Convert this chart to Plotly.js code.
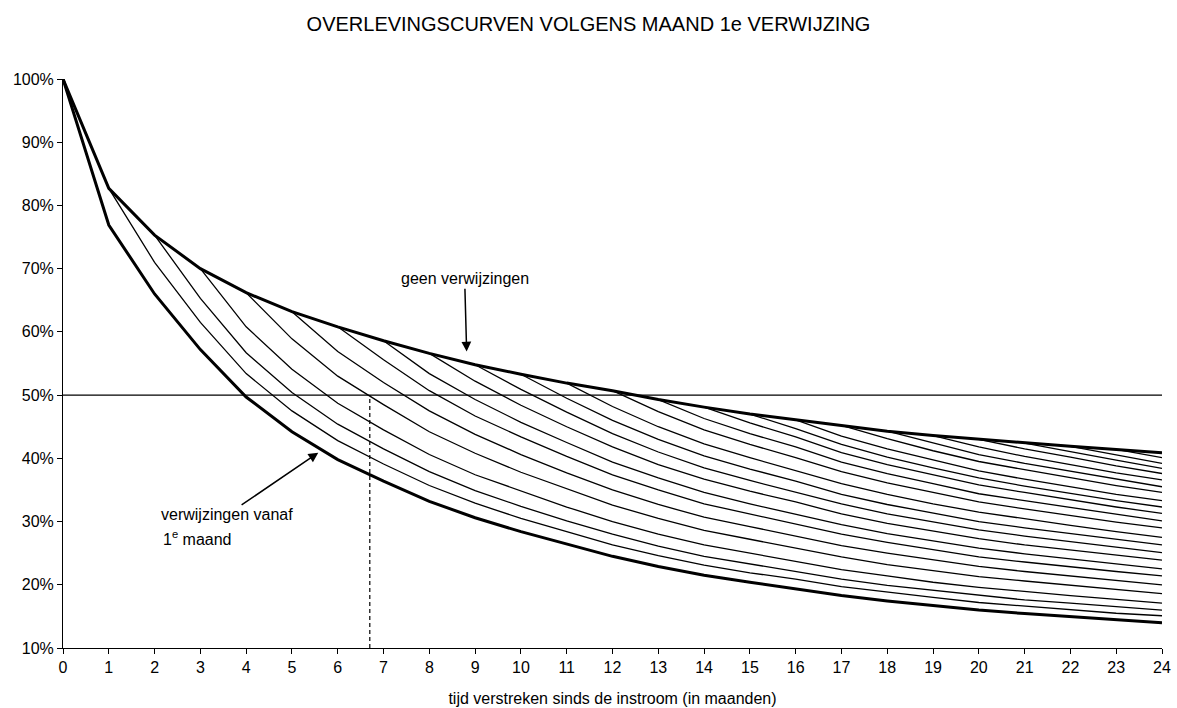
<!DOCTYPE html>
<html>
<head>
<meta charset="utf-8">
<script src="https://cdn.plot.ly/plotly-3.0.1.min.js"></script>
<style>
  html, body { margin: 0; padding: 0; background: #ffffff; }
  #chart { width: 1177px; height: 708px; }
</style>
</head>
<body>
<div id="chart"></div>
<script>
// ---- data ----
const months = [0,1,2,3,4,5,6,7,8,9,10,11,12,13,14,15,16,17,18,19,20,21,22,23,24];

// upper bold curve: geen verwijzingen (%)
const geenVerwijzingen = [100,82.7,75.3,70.0,66.2,63.2,60.8,58.6,56.6,54.8,53.3,51.9,50.7,49.3,48.1,47.0,46.1,45.2,44.3,43.6,43.0,42.4,41.9,41.4,40.9];

// lower bold curve: verwijzingen vanaf 1e maand (%)
const verwijzingenVanaf1 = [100,76.9,66.0,57.2,49.7,44.2,39.8,36.4,33.2,30.6,28.4,26.4,24.5,22.9,21.5,20.4,19.4,18.3,17.45,16.7,16.0,15.45,14.95,14.45,14.0];

// thin curves: first referral in month k (values from month k up to 24)
const divergeMonths = [1,2,3,4,5,6,7,8,9,10,11,12,13,14,15,16,17,18,19,20,21,22,23];
const thinCurves = [
  [82.7,71.0,61.5,53.4,47.5,42.8,39.1,35.7,32.9,30.5,28.4,26.3,24.6,23.1,21.9,20.9,19.7,18.8,18.0,17.2,16.6,16.1,15.5,15.1],
  [75.3,65.3,56.7,50.4,45.4,41.5,37.9,34.9,32.4,30.1,28.0,26.1,24.5,23.3,22.1,20.9,19.9,19.1,18.3,17.6,17.1,16.5,16.0],
  [70.0,60.8,54.1,48.7,44.5,40.6,37.4,34.8,32.3,30.0,28.0,26.3,25.0,23.7,22.4,21.4,20.4,19.6,18.9,18.3,17.7,17.1],
  [66.2,58.9,53.0,48.5,44.2,40.8,37.8,35.2,32.6,30.5,28.6,27.2,25.8,24.4,23.2,22.2,21.3,20.6,19.9,19.2,18.6],
  [63.2,56.9,52.0,47.5,43.8,40.6,37.7,35.0,32.7,30.7,29.2,27.7,26.2,25.0,23.9,22.9,22.1,21.4,20.7,20.0],
  [60.8,55.6,50.7,46.7,43.4,40.3,37.4,35.0,32.8,31.2,29.6,28.0,26.7,25.5,24.4,23.6,22.8,22.1,21.4],
  [58.6,53.4,49.3,45.7,42.5,39.4,36.9,34.6,32.8,31.2,29.5,28.1,26.9,25.8,24.9,24.1,23.3,22.5],
  [56.6,52.2,48.4,45.0,41.8,39.0,36.7,34.8,33.1,31.2,29.7,28.5,27.3,26.3,25.5,24.6,23.9],
  [54.8,50.9,47.3,43.9,41.0,38.5,36.5,34.7,32.8,31.2,29.9,28.7,27.7,26.8,25.9,25.1],
  [53.3,49.5,46.0,43.0,40.4,38.3,36.4,34.3,32.7,31.3,30.0,29.0,28.1,27.1,26.3],
  [51.9,48.2,45.0,42.3,40.1,38.1,36.0,34.3,32.8,31.5,30.4,29.4,28.4,27.5],
  [50.7,47.4,44.5,42.2,40.1,37.9,36.1,34.6,33.1,32.0,30.9,29.9,29.0],
  [49.3,46.3,43.9,41.8,39.4,37.6,36.0,34.4,33.3,32.2,31.1,30.1],
  [48.1,45.6,43.4,40.9,39.0,37.4,35.8,34.6,33.4,32.3,31.3],
  [47.0,44.7,42.2,40.2,38.5,36.9,35.6,34.4,33.3,32.3],
  [46.1,43.5,41.5,39.7,38.0,36.7,35.5,34.3,33.3],
  [45.2,43.1,41.2,39.5,38.2,36.9,35.7,34.6],
  [44.3,42.4,40.6,39.2,38.0,36.7,35.5],
  [43.6,41.8,40.3,39.0,37.7,36.6],
  [43.0,41.5,40.2,38.8,37.6],
  [42.4,41.0,39.7,38.4],
  [41.9,40.5,39.2],
  [41.4,40.1]
];

const yTickValues = [10,20,30,40,50,60,70,80,90,100];
const yTickLabels = ['10%','20%','30%','40%','50%','60%','70%','80%','90%','100%'];
const referenceLevel = 50;     // horizontal 50% line
const medianMonth = 6.7;       // dashed vertical line

// ---- traces ----
const FONT = 'Liberation Sans, Arial, Helvetica, sans-serif';
const traces = [];

thinCurves.forEach((vals, i) => {
  traces.push({
    type: 'scatter', mode: 'lines',
    x: months.slice(divergeMonths[i]), y: vals,
    line: { color: '#000000', width: 1.3 },
    hoverinfo: 'skip'
  });
});

traces.push({
  type: 'scatter', mode: 'lines',
  x: [months[0], months[months.length - 1]], y: [referenceLevel, referenceLevel],
  line: { color: '#000000', width: 1.3 }, hoverinfo: 'skip'
});

traces.push({
  type: 'scatter', mode: 'lines',
  x: [medianMonth, medianMonth], y: [yTickValues[0], referenceLevel],
  line: { color: '#000000', width: 1.2, dash: '4px,3px' }, hoverinfo: 'skip'
});

traces.push({
  type: 'scatter', mode: 'lines', x: months, y: verwijzingenVanaf1,
  line: { color: '#000000', width: 3 }, name: 'verwijzingen vanaf 1e maand'
});
traces.push({
  type: 'scatter', mode: 'lines', x: months, y: geenVerwijzingen,
  line: { color: '#000000', width: 3 }, name: 'geen verwijzingen'
});

const layout = {
  width: 1177, height: 708,
  margin: { l: 63, r: 15, t: 79, b: 60 },
  paper_bgcolor: '#ffffff', plot_bgcolor: '#ffffff',
  showlegend: false,
  font: { family: FONT, size: 16, color: '#000000' },
  title: {
    text: 'OVERLEVINGSCURVEN VOLGENS MAAND 1e VERWIJZING',
    font: { family: FONT, size: 20, color: '#000000' },
    xref: 'container', x: 0.5, xanchor: 'center',
    yref: 'container', y: 0.966, yanchor: 'middle'
  },
  xaxis: {
    range: [0, 24],
    tickmode: 'array', tickvals: months, ticktext: months.map(String),
    ticks: 'outside', ticklen: 5, tickwidth: 1, tickcolor: '#000000',
    showline: true, linecolor: '#000000', linewidth: 1,
    showgrid: false, zeroline: false,
    tickfont: { family: FONT, size: 16, color: '#000000' },
    title: { text: 'tijd verstreken sinds de instroom (in maanden)', font: { family: FONT, size: 16, color: '#000000' }, standoff: 17 },
    automargin: false
  },
  yaxis: {
    range: [10, 100],
    tickmode: 'array', tickvals: yTickValues, ticktext: yTickLabels,
    ticks: 'outside', ticklen: 5, tickwidth: 1, tickcolor: '#000000',
    showline: true, linecolor: '#000000', linewidth: 1,
    showgrid: false, zeroline: false,
    tickfont: { family: FONT, size: 16, color: '#000000' },
    automargin: false
  },
  annotations: [
    {
      x: 8.815, y: 56.9, xref: 'x', yref: 'y',
      text: 'geen verwijzingen', showarrow: true, ax: -2, ay: -72.7,
      arrowhead: 2, arrowsize: 1.3, arrowwidth: 1.5, arrowcolor: '#000000',
      font: { family: FONT, size: 16, color: '#000000' }
    },
    {
      x: 5.574, y: 40.9, xref: 'x', yref: 'y',
      text: 'verwijzingen vanaf', showarrow: true, ax: -91.3, ay: 62.3,
      arrowhead: 2, arrowsize: 1.3, arrowwidth: 1.5, arrowcolor: '#000000',
      font: { family: FONT, size: 16, color: '#000000' }
    },
    {
      x: 2.14, y: 27.4, xref: 'x', yref: 'y',
      text: '1<sup>e</sup> maand', showarrow: false,
      xanchor: 'left', yanchor: 'middle', align: 'left',
      font: { family: FONT, size: 16, color: '#000000' }
    }
  ]
};

Plotly.newPlot('chart', traces, layout, { staticPlot: true, displayModeBar: false });
</script>
</body>
</html>
